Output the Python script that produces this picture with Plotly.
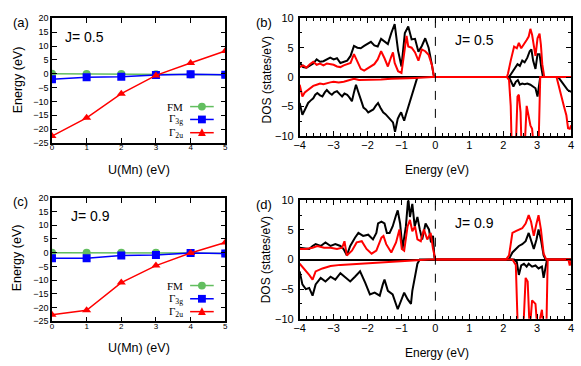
import plotly.graph_objects as go

# ---- panel (a)/(c): energy vs U(Mn) ----
U = [0, 1, 2, 3, 4, 5]
fm_05 = [0.0, -0.1, -0.1, -0.2, -0.3, -0.4]
t3g_05 = [-2.0, -1.3, -1.1, -0.5, -0.2, -0.4]
t2u_05 = [-22.5, -15.9, -7.2, -0.6, 3.9, 8.2]

fm_09 = [0.0, 0.0, 0.0, 0.0, -0.1, -0.3]
t3g_09 = [-2.0, -2.0, -1.0, -0.8, -0.1, -0.3]
t2u_09 = [-22.6, -21.0, -10.9, -4.7, -0.1, 3.7]

# ---- panel (b): DOS, J=0.5 ----
b_up_k_E = [-4.0, -3.9, -3.8, -3.7, -3.6, -3.5, -3.4, -3.3, -3.2, -3.1, -3.0, -2.9, -2.8, -2.7,
            -2.6, -2.5, -2.4, -2.3, -2.2, -2.1, -2.0, -1.9, -1.8, -1.7, -1.6, -1.5, -1.4, -1.3,
            -1.2, -1.1, -1.0, -0.9, -0.8, -0.7, -0.6, -0.5, -0.4, -0.3, -0.2, -0.1, -0.05, 0.0,
            2.17, 2.24, 2.32, 2.42, 2.49, 2.56, 2.63, 2.71, 2.78, 2.83, 2.88, 2.95, 3.01, 3.07,
            3.12, 3.17, 4.0]
b_up_k = [2.5, 1.7, 1.6, 2.0, 2.3, 3.0, 2.6, 2.7, 3.0, 3.3, 3.0, 3.2, 2.4, 2.6,
          2.8, 3.6, 5.3, 5.0, 4.9, 5.3, 5.6, 6.0, 5.4, 5.2, 6.5, 6.0, 5.6, 7.5,
          9.0, 4.5, 1.8, 7.5, 8.6, 6.4, 6.5, 4.3, 5.3, 6.6, 5.0, 2.0, 0.3, 0.0,
          0.0, 0.6, 1.4, 2.2, 1.9, 2.8, 2.5, 3.3, 4.4, 4.7, 2.8, 1.4, 3.9, 3.9,
          1.7, 0.0, 0.0]

b_up_r_E = [-4.0, -3.9, -3.8, -3.7, -3.6, -3.5, -3.4, -3.3, -3.2, -3.1, -3.0, -2.9, -2.8, -2.7,
            -2.6, -2.5, -2.4, -2.3, -2.2, -2.1, -2.0, -1.9, -1.8, -1.7, -1.6, -1.5, -1.4, -1.3,
            -1.25, -1.2, -1.1, -1.0, -0.9, -0.85, -0.8, -0.7, -0.6, -0.5, -0.4, -0.3, -0.2, -0.1,
            -0.05, 0.0, 2.11, 2.14, 2.22, 2.32, 2.40, 2.46, 2.53, 2.61, 2.69, 2.75, 2.80, 2.85,
            2.90, 2.95, 3.01, 3.07, 3.11, 3.15, 3.21, 4.0]
b_up_r = [1.7, 2.0, 1.6, 2.2, 2.6, 2.1, 2.3, 2.0, 2.3, 2.2, 2.1, 1.8, 1.7, 2.0,
          2.2, 2.4, 3.9, 2.6, 1.4, 1.1, 1.5, 1.8, 2.2, 3.0, 4.4, 3.2, 1.8, 3.5,
          4.2, 2.4, 1.0, 0.7, 5.5, 7.0, 5.2, 5.0, 4.2, 2.8, 4.7, 4.4, 3.8, 2.0,
          0.3, 0.0, 0.0, 0.6, 2.8, 5.2, 4.9, 5.8, 4.9, 5.5, 6.3, 6.9, 8.2, 7.2,
          4.9, 3.6, 6.6, 7.4, 5.5, 2.2, 0.0, 0.0]

b_dn_k_E = [-4.0, -3.96, -3.92, -3.85, -3.75, -3.68, -3.6, -3.54, -3.48, -3.4, -3.33, -3.26,
            -3.2, -3.12, -3.05, -2.98, -2.9, -2.82, -2.75, -2.68, -2.6, -2.53, -2.46, -2.4,
            -2.34, -2.28, -2.22, -2.17, -2.12, -2.05, -1.98, -1.9, -1.83, -1.76, -1.69, -1.62,
            -1.54, -1.47, -1.40, -1.32, -1.25, -1.19, -1.15, -1.11, -1.06, -1.01, -0.96, -0.92,
            -0.87, -0.82, -0.77, -0.72, -0.67, -0.63, -0.58, -0.53,
            2.17, 2.24, 2.30, 2.37, 2.43, 2.49, 2.56, 2.63, 2.71, 2.80, 2.88, 2.95, 3.01, 3.06,
            3.09, 3.62, 3.69, 3.76, 3.83, 3.9, 4.0]
b_dn_k = [-4.4, -5.5, -6.4, -5.6, -4.4, -4.0, -3.6, -3.0, -2.7, -3.1, -3.3, -2.6,
          -2.2, -2.7, -3.0, -2.6, -2.4, -2.9, -3.3, -2.8, -3.0, -3.5, -4.1, -2.6,
          -1.3, -2.4, -3.3, -4.3, -5.2, -5.5, -6.0, -5.8, -5.5, -4.9, -4.4, -5.2,
          -6.0, -6.3, -6.8, -7.2, -7.7, -9.3, -8.2, -7.1, -6.5, -6.0, -6.8, -7.4,
          -6.4, -5.5, -4.5, -3.8, -2.8, -1.9, -0.9, 0.0,
          0.0, -0.8, -1.6, -0.8, -0.5, -1.3, -1.1, -1.2, -1.1, -1.3, -1.6, -1.9, -3.3, -0.8,
          0.0, 0.0, -0.6, -1.1, -1.7, -2.2, -2.5]

b_dn_r_E = [-4.0, -3.96, -3.92, -3.85, -3.75, -3.68, -3.6, -3.5, -3.4, -3.3, -3.2, -3.1, -3.0,
            -2.85, -2.7, -2.55, -2.4, -2.25, -2.1, -1.9, -1.6, -1.3, -1.1, -0.8, -0.6, -0.3, -0.1,
            2.11, 2.17, 2.22, 2.25, 2.37, 2.42, 2.46, 2.51, 2.54, 2.63, 2.69, 2.73, 2.80, 2.85,
            2.90, 3.04, 3.09, 3.57, 3.65, 3.72, 3.79, 3.86, 3.91, 3.96, 4.0]
b_dn_r = [-1.3, -2.4, -3.3, -2.6, -2.2, -1.8, -1.5, -1.3, -1.1, -1.2, -1.0, -0.9, -0.8,
          -0.9, -0.8, -0.6, -0.3, -0.5, -0.5, -0.4, -0.4, -0.3, -0.3, -0.2, -0.15, -0.1, 0.0,
          0.0, -0.5, -4.9, -12, -12, -3.3, -3.0, -6.0, -12, -12, -4.9, -6.0, -8.2, -8.8,
          -12, -12, 0.0, 0.0, -2.0, -3.3, -5.0, -6.5, -8.7, -8.8, -8.2]

# ---- panel (d): DOS, J=0.9 ----
d_up_k_E = [-4.0, -3.87, -3.72, -3.62, -3.53, -3.38, -3.24, -3.09, -2.95, -2.80, -2.71, -2.61,
            -2.51, -2.37, -2.27, -2.13, -1.98, -1.84, -1.74, -1.69, -1.59, -1.50, -1.43, -1.35,
            -1.26, -1.16, -1.11, -1.04, -0.97, -0.87, -0.80, -0.75, -0.68, -0.61, -0.53, -0.46,
            -0.39, -0.29, -0.19, -0.13, -0.07, -0.03, 0.0,
            2.12, 2.17, 2.27, 2.37, 2.46, 2.56, 2.66, 2.75, 2.82, 2.90, 2.98, 3.04, 3.11, 3.19,
            3.25, 4.0]
d_up_k = [2.0, 1.9, 1.8, 2.3, 2.6, 2.3, 2.9, 2.3, 2.6, 2.3, 1.8, 0.7,
          2.3, 3.7, 4.5, 4.0, 4.2, 3.4, 4.5, 6.1, 6.4, 6.1, 4.5, 4.5,
          5.6, 7.5, 8.3, 6.1, 1.8, 5.6, 10.5, 7.2, 9.4, 5.6, 7.2, 5.1,
          3.4, 6.1, 5.1, 2.9, 4.0, 0.4, 0.0,
          0.0, 0.1, 1.2, 1.8, 2.3, 2.6, 3.1, 4.5, 3.4, 1.8, 3.4, 5.1, 3.4, 0.7,
          0.0, 0.0]

d_up_r_E = [-4.0, -3.82, -3.62, -3.48, -3.28, -3.09, -2.90, -2.75, -2.68, -2.61, -2.46, -2.32,
            -2.17, -2.03, -1.88, -1.74, -1.59, -1.53, -1.45, -1.30, -1.16, -1.06, -0.99, -0.92,
            -0.82, -0.75, -0.68, -0.60, -0.53, -0.43, -0.34, -0.24, -0.14, -0.07, 0.0,
            2.08, 2.17, 2.27, 2.37, 2.46, 2.56, 2.66, 2.75, 2.82, 2.90, 2.98, 3.04, 3.11, 3.19,
            3.27, 4.0]
d_up_r = [1.8, 1.8, 2.0, 2.3, 2.0, 2.0, 1.8, 2.0, 3.1, 0.7, 1.5, 2.9,
          3.1, 1.8, 1.0, 1.5, 3.7, 4.0, 2.6, 1.2, 2.9, 5.1, 1.8, 1.5,
          5.6, 6.7, 4.8, 5.6, 3.4, 3.1, 5.1, 3.4, 4.5, 1.8, 0.0,
          0.0, 0.7, 4.5, 4.8, 5.1, 5.3, 6.1, 7.5, 6.4, 4.0, 6.1, 7.5, 5.1, 1.0,
          0.0, 0.0]

d_dn_k_E = [-4.0, -3.92, -3.82, -3.72, -3.62, -3.53, -3.38, -3.24, -3.09, -2.95, -2.80, -2.66,
            -2.51, -2.37, -2.22, -2.07, -1.93, -1.79, -1.64, -1.55, -1.50, -1.40, -1.26, -1.11,
            -1.01, -0.92, -0.82, -0.72, -0.68, -0.60, -0.53, -0.46,
            2.32, 2.40, 2.46, 2.53, 2.61, 2.69, 2.75, 2.85, 2.95, 3.04, 3.14, 3.19, 3.24, 3.29,
            4.0]
d_dn_k = [-2.0, -4.2, -5.0, -4.8, -6.1, -4.2, -3.1, -3.7, -2.9, -3.4, -2.3, -2.9,
          -3.7, -2.9, -2.0, -3.9, -5.9, -5.6, -6.1, -4.2, -3.4, -5.3, -5.9, -8.4,
          -7.0, -5.6, -6.7, -7.5, -5.3, -2.6, -0.7, 0.0,
          0.0, -0.4, -2.6, -1.0, -0.7, -1.2, -0.7, -1.2, -1.0, -1.5, -1.2, -3.1, -1.8, 0.0,
          0.0]

d_dn_r_E = [-4.0, -3.92, -3.82, -3.72, -3.62, -3.53, -3.33, -3.09, -2.80, -2.51, -2.13, -1.64,
            -1.16, -0.68, -0.19,
            2.27, 2.37, 2.43, 2.59, 2.66, 2.72, 2.78, 2.85, 2.95, 3.01, 3.14, 3.19, 3.27, 3.31,
            3.92, 3.96, 4.0]
d_dn_r = [-0.7, -1.2, -1.8, -2.6, -3.4, -2.0, -1.5, -1.1, -0.9, -0.8, -0.7, -0.6,
          -0.4, -0.2, 0.0,
          0.0, -0.9, -12, -12, -3.1, -3.7, -12, -6.9, -7.5, -12, -8.5, -12, -12, 0.0,
          0.0, -1.0, -0.3]

W, H = 581, 366
SANS = "Liberation Sans, Arial, Helvetica, sans-serif"
SERIF = "Liberation Serif, Times New Roman, serif"
GREEN = "rgb(98,190,95)"
BLUE = "rgb(0,0,255)"
RED = "rgb(255,0,0)"


def px(x):
    return x / W


def py(y):
    return 1 - y / H


fig = go.Figure()

# energy panels
for ax, fm, t3g, t2u in [("", fm_05, t3g_05, t2u_05), ("3", fm_09, t3g_09, t2u_09)]:
    fig.add_trace(go.Scatter(x=U, y=fm, mode="lines+markers", xaxis="x" + ax, yaxis="y" + ax,
                             line=dict(color=GREEN, width=1.5),
                             marker=dict(symbol="circle", size=8, color=GREEN)))
    fig.add_trace(go.Scatter(x=U, y=t3g, mode="lines+markers", xaxis="x" + ax, yaxis="y" + ax,
                             line=dict(color=BLUE, width=1.5),
                             marker=dict(symbol="square", size=8, color=BLUE)))
    fig.add_trace(go.Scatter(x=U, y=t2u, mode="lines+markers", xaxis="x" + ax, yaxis="y" + ax,
                             line=dict(color=RED, width=1.5),
                             marker=dict(symbol="triangle-up", size=8, color=RED)))

# DOS panels
for ax, curves in [("2", [(b_up_k_E, b_up_k, "black"), (b_dn_k_E, b_dn_k, "black"),
                          (b_up_r_E, b_up_r, RED), (b_dn_r_E, b_dn_r, RED)]),
                   ("4", [(d_up_k_E, d_up_k, "black"), (d_dn_k_E, d_dn_k, "black"),
                          (d_up_r_E, d_up_r, RED), (d_dn_r_E, d_dn_r, RED)])]:
    for e, d, c in curves:
        fig.add_trace(go.Scatter(x=e, y=d, mode="lines", xaxis="x" + ax, yaxis="y" + ax,
                                 line=dict(color=c, width=2)))

frame = dict(showline=True, linecolor="black", linewidth=1.5, mirror="allticks",
             ticks="inside", ticklen=5, tickwidth=1, tickcolor="black",
             showgrid=False, zeroline=False)

dom_xl = [px(46.7), px(222.7)]
dom_xr = [px(298.3), px(574)]

fig.update_layout(
    width=W, height=H, margin=dict(l=0, r=0, t=0, b=0),
    paper_bgcolor="white", plot_bgcolor="white", showlegend=False,
    font=dict(family=SANS, color="black"),
    xaxis=dict(frame, domain=dom_xl, range=[0, 5], dtick=1, anchor="y",
               tickfont=dict(size=8), ticklabelstandoff=-4),
    yaxis=dict(frame, domain=[py(141.7), py(12.7)], range=[-25, 20], dtick=5, anchor="x",
               tickfont=dict(size=9), ticklabelstandoff=0),
    xaxis3=dict(frame, domain=dom_xl, range=[0, 5], dtick=1, anchor="y3",
                tickfont=dict(size=8), ticklabelstandoff=-4),
    yaxis3=dict(frame, domain=[py(326), py(198.3)], range=[-25, 20], dtick=5, anchor="x3",
                tickfont=dict(size=9), ticklabelstandoff=0),
    xaxis2=dict(frame, domain=dom_xr, range=[-4, 4], dtick=1, anchor="y2",
                tickfont=dict(size=11), ticklabelstandoff=-2,
                minor=dict(dtick=0.2, ticklen=3, ticks="inside", tickcolor="black")),
    yaxis2=dict(frame, domain=[py(134.3), py(12.7)], range=[-10, 10], dtick=5, anchor="x2",
                tickfont=dict(size=11), ticklabelstandoff=2,
                zeroline=True, zerolinecolor="black", zerolinewidth=2,
                minor=dict(dtick=2.5, ticklen=3, ticks="inside", tickcolor="black")),
    xaxis4=dict(frame, domain=dom_xr, range=[-4, 4], dtick=1, anchor="y4",
                tickfont=dict(size=11), ticklabelstandoff=-2,
                minor=dict(dtick=0.2, ticklen=3, ticks="inside", tickcolor="black")),
    yaxis4=dict(frame, domain=[py(323.3), py(201)], range=[-10, 10], dtick=5, anchor="x4",
                tickfont=dict(size=11), ticklabelstandoff=2,
                zeroline=True, zerolinecolor="black", zerolinewidth=2,
                minor=dict(dtick=2.5, ticklen=3, ticks="inside", tickcolor="black")),
)

# dashed Fermi level
for ax in ["2", "4"]:
    fig.add_shape(type="line", xref="x" + ax, yref="y" + ax + " domain", x0=0, x1=0, y0=0, y1=1,
                  line=dict(color="black", width=1, dash="dash"))

# text labels
def label(x, y, text, size, angle=0, family=SANS, xanchor="center"):
    fig.add_annotation(x=px(x), y=py(y), xref="paper", yref="paper", text=text,
                       showarrow=False, textangle=angle, xanchor=xanchor, yanchor="middle",
                       font=dict(size=size, family=family, color="black"))

label(15, 17, "(a)", 13)
label(262, 17, "(b)", 13)
label(15, 202, "(c)", 13)
label(262, 205, "(d)", 13)
label(80, 32.5, "J= 0.5", 14)
label(476, 35, "J= 0.5", 14)
label(86, 217.5, "J= 0.9", 14)
label(476, 224, "J= 0.9", 14)
label(135, 170, "U(Mn) (eV)", 12.5)
label(135, 354, "U(Mn) (eV)", 12.5)
label(12, 76, "Energy (eV)", 12.5, angle=-90)
label(12, 260, "Energy (eV)", 12.5, angle=-90)
label(438, 170, "Energy (eV)", 12)
label(438, 359, "Energy (eV)", 12)
label(265, 76, "DOS (states/eV)", 12, angle=-90)
label(265, 262, "DOS (states/eV)", 12, angle=-90)

# legend keys (text left, sample right)
names = ["FM", "Γ<sub>3g</sub>", "Γ<sub>2u</sub>"]
colors = [GREEN, BLUE, RED]
for rows in [[104, 117.3, 131], [289, 302.7, 316]]:
    for name, c, y, k in zip(names, colors, rows, range(3)):
        label(182, y, name, 11, family=SERIF, xanchor="right")
        fig.add_shape(type="line", xref="paper", yref="paper", x0=px(187), x1=px(211),
                      y0=py(y), y1=py(y), line=dict(color=c, width=1.5))
        if k == 0:
            fig.add_shape(type="circle", xref="paper", yref="paper", x0=px(195), x1=px(203),
                          y0=py(y - 4), y1=py(y + 4), fillcolor=c, line=dict(color=c, width=0))
        elif k == 1:
            fig.add_shape(type="rect", xref="paper", yref="paper", x0=px(195), x1=px(203),
                          y0=py(y - 4), y1=py(y + 4), fillcolor=c, line=dict(color=c, width=0))
        else:
            path = "M %f,%f L %f,%f L %f,%f Z" % (px(195), py(y + 3.5), px(203), py(y + 3.5),
                                                 px(199), py(y - 4.5))
            fig.add_shape(type="path", xref="paper", yref="paper", path=path,
                          fillcolor=c, line=dict(color=c, width=0))

# drop the page's default body margin so the figure sits at the window origin
fig.write_html("out.html", config={"displayModeBar": False},
               post_script="document.body.style.margin='0';")
